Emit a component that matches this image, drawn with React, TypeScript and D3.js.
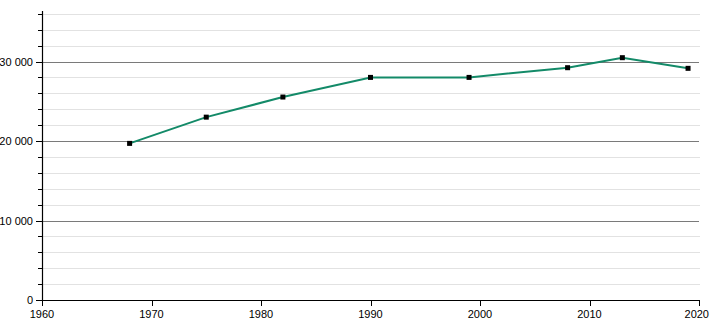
import React from "react";
import * as d3 from "d3";

const years = [1968, 1975, 1982, 1990, 1999, 2008, 2013, 2019];
const population = [19700, 23000, 25530, 28000, 28000, 29220, 30480, 29140];
const xTicks = [1960, 1970, 1980, 1990, 2000, 2010, 2020];
const yMajor = [0, 10000, 20000, 30000];
const yMinor = [2000, 4000, 6000, 8000, 12000, 14000, 16000, 18000, 22000, 24000, 26000, 28000, 32000, 34000, 36000];

const W = 710, H = 320;
const left = 42, right = 699, top = 11, bottom = 300;

export default function App() {
  const x = d3.scaleLinear().domain([1960, 2020]).range([left, right]);
  const y = d3.scaleLinear().domain([0, 10000]).range([bottom, 220.5]);
  const fmt = (v: number) => d3.format(",")(v).replace(/,/g, " ");
  const line = d3.line<number>().x((_, i) => x(years[i])).y((d) => y(d));
  const font = "'Liberation Sans', Arial, sans-serif";
  return (
    <svg width={W} height={H} style={{ position: "absolute", left: 0, top: 0 }} fontFamily={font}>
      <rect width={W} height={H} fill="#fff" />
      {yMinor.map((v) => (
        <g key={"m" + v}>
          <line x1={left} x2={right + 1} y1={Math.round(y(v)) + 0.5} y2={Math.round(y(v)) + 0.5} stroke="#e2e2e2" />
          <line x1={left - 4} x2={left} y1={Math.round(y(v)) + 0.5} y2={Math.round(y(v)) + 0.5} stroke="#000" />
        </g>
      ))}
      {yMajor.map((v) => (
        <g key={"M" + v}>
          {v > 0 && (
            <line x1={left} x2={right} y1={Math.round(y(v)) + 0.5} y2={Math.round(y(v)) + 0.5} stroke="#7a7a7a" />
          )}
          <line x1={left - 6} x2={left} y1={Math.round(y(v)) + 0.5} y2={Math.round(y(v)) + 0.5} stroke="#000" />
          <text x={left - 9} y={y(v) + 4} textAnchor="end" fontSize={11} fill="#000">
            {fmt(v)}
          </text>
        </g>
      ))}
      <line x1={left + 0.5} x2={left + 0.5} y1={top} y2={bottom + 1} stroke="#000" strokeWidth={1.2} />
      <line x1={left} x2={right} y1={bottom + 0.5} y2={bottom + 0.5} stroke="#000" strokeWidth={1.2} />
      {xTicks.map((t, i) => {
        const last = i === xTicks.length - 1;
        return (
          <g key={"x" + t}>
            <line x1={Math.round(x(t)) + 0.5} x2={Math.round(x(t)) + 0.5} y1={bottom} y2={bottom + 6} stroke="#000" />
            <text x={last ? W - 1 : x(t)} y={317.5} textAnchor={last ? "end" : "middle"} fontSize={11} fill="#000">
              {t}
            </text>
          </g>
        );
      })}
      <path d={line(population) || ""} fill="none" stroke="#138a68" strokeWidth={2} />
      {population.map((v, i) => (
        <rect key={i} x={x(years[i]) - 2.5} y={y(v) - 2.5} width={5} height={5} fill="#000" />
      ))}
    </svg>
  );
}
